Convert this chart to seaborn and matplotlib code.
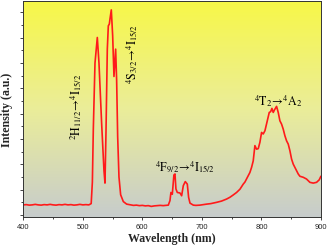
import numpy as np
import matplotlib
matplotlib.use("Agg")
import matplotlib.pyplot as plt
import seaborn as sns

# spectrum (wavelength in nm, intensity in a.u.)
wavelength = [400, 405, 410, 415, 420, 425, 430, 435, 440, 445, 450, 455, 460, 465, 470,
              475, 480, 485, 490, 495, 500, 505, 510, 514,
              516, 517.6, 520.4, 524.3, 527.1, 531.6, 535.5, 537.2, 538.9, 541.1, 542.8,
              544.5, 545.6, 547.8, 550.1, 552.3, 553.4, 555.1, 556.8, 558.5, 560.7, 563.5,
              568, 573.6, 580, 585, 590, 595, 600, 605, 610, 615, 620, 625, 630, 635, 640,
              643.6, 646.4, 648, 650.3, 653, 654.8, 656.4, 658.7, 663.2, 666, 668.8, 672.1,
              675.5, 677.7, 680, 685.6, 690, 696.7, 702, 708, 715, 724.7, 733, 741.5, 747.1,
              752, 758.3, 764, 769.5, 772.3, 777.9, 780.7, 783.5, 786.3, 789.1, 791.9, 794.7,
              797.5, 800.3, 803.1, 806, 809.9, 813.2, 815.5, 817.7, 819.9, 822.2, 825.5,
              828.3, 831.1, 833.9, 836.7, 839.5, 842.3, 845.1, 847.9, 850.7, 853.5, 856.3,
              859.1, 861.9, 864.7, 870.3, 875.9, 881.5, 887.1, 892.7, 897.2, 900]
intensity = [0.40, 0.41, 0.39, 0.40, 0.42, 0.40, 0.39, 0.41, 0.40, 0.42, 0.40, 0.39, 0.41, 0.40,
             0.42, 0.40, 0.41, 0.39, 0.40, 0.42, 0.40, 0.41, 0.40, 0.45,
             1.3, 3.4, 6.0, 7.01, 6.0, 3.6, 1.75, 1.26, 3.3, 6.55, 7.47,
             7.54, 7.74, 8.1, 7.08, 5.47, 5.9, 6.55, 5.3, 3.1, 1.5, 0.8,
             0.53, 0.43, 0.40, 0.38, 0.39, 0.37, 0.38, 0.36, 0.37, 0.34, 0.36, 0.37, 0.38, 0.37, 0.38,
             0.39, 0.57, 0.89, 0.82, 1.58, 1.62, 1.03, 0.89, 0.87, 0.76, 1.16, 1.32,
             1.22, 0.70, 0.47, 0.39, 0.38, 0.39, 0.41, 0.43, 0.45, 0.50, 0.55, 0.63, 0.70,
             0.78, 0.89, 1.02, 1.22, 1.30, 1.55, 1.68, 1.88, 2.14, 2.74, 2.60, 2.62,
             2.87, 3.26, 3.20, 3.33, 3.72, 4.05, 4.08, 4.21, 4.05, 4.16, 4.29,
             4.05, 3.72, 3.59, 3.39, 3.13, 2.93, 2.80, 2.54, 2.21, 2.01, 1.88,
             1.75, 1.62, 1.53, 1.49, 1.42, 1.29, 1.26, 1.29, 1.39, 1.53]

# transition labels: text, x, y, rotation
labels = [r"$^{2}\mathrm{H}_{11/2}\!\rightarrow\!^{4}\mathrm{I}_{15/2}$",
          r"$^{4}\mathrm{S}_{3/2}\!\rightarrow\!^{4}\mathrm{I}_{15/2}$",
          r"$^{4}\mathrm{F}_{9/2}\!\rightarrow\!^{4}\mathrm{I}_{15/2}$",
          r"$^{4}\mathrm{T}_{2}\!\rightarrow\!^{4}\mathrm{A}_{2}$"]
label_x = [488.5, 583, 671.5, 828]
label_y = [4.3, 6.4, 1.9, 4.55]
label_rot = [90, 90, 0, 0]

sns.set_style("ticks")
plt.rcParams["font.family"] = ["Liberation Sans", "DejaVu Sans"]
plt.rcParams["mathtext.fontset"] = "stix"

fig = plt.figure(figsize=(3.31, 2.53), dpi=100)
ax = fig.add_axes([0.0705, 0.137, 0.899, 0.856])

ylo, yhi = -0.092, 8.46
ax.set_xlim(400, 900)
ax.set_ylim(ylo, yhi)

# yellow to grey background
top = np.array([0.97, 0.97, 0.28])
mid = np.array([0.92, 0.93, 0.60])
bot = np.array([0.78, 0.80, 0.80])
t = np.linspace(0, 1, 256)[:, None]
grad = np.where(t < 0.5, top + (mid - top) * (t / 0.5), mid + (bot - mid) * ((t - 0.5) / 0.5))
ax.imshow(grad[:, None, :], extent=[400, 900, ylo, yhi], aspect="auto", zorder=0)

sns.lineplot(x=wavelength, y=intensity, ax=ax, color="#ff1a1a", linewidth=1.2, zorder=2)

for txt, lx, ly, rot in zip(labels, label_x, label_y, label_rot):
    ax.text(lx, ly, txt, rotation=rot, ha="center", va="center", fontsize=8.6, color="black")

ax.set_xticks(range(400, 901, 100))
ax.set_xticks(range(450, 900, 100), minor=True)
ax.set_yticks(range(0, 9))
ax.set_yticks(np.arange(0.5, 8.5, 1), minor=True)
ax.set_yticklabels([])
ax.tick_params(axis="both", which="major", length=2.2, width=0.6, labelsize=5.5, pad=2)
ax.tick_params(axis="both", which="minor", length=1.5, width=0.6)
for s in ax.spines.values():
    s.set_linewidth(0.7)
    s.set_color("#333333")

ax.set_xlabel("Wavelength (nm)", family="Liberation Serif", fontweight="bold", fontsize=8.6, labelpad=1.5)
ax.set_ylabel("Intensity (a.u.)", family="Liberation Serif", fontweight="bold", fontsize=8.6, labelpad=2.5)

fig.savefig("out.png", dpi=100)
